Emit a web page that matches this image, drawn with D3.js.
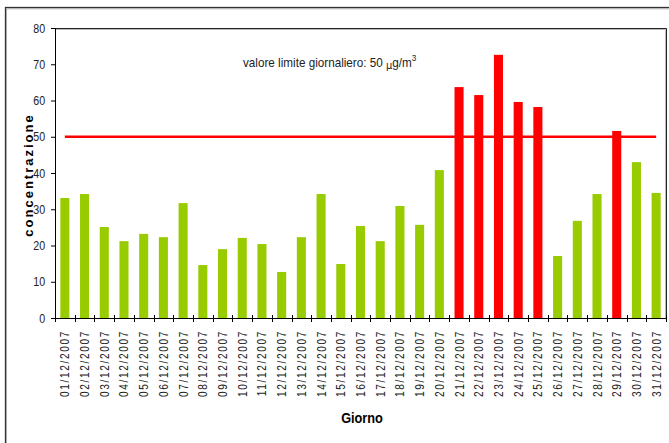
<!DOCTYPE html>
<html><head><meta charset="utf-8">
<script src="https://cdn.jsdelivr.net/npm/d3@7"></script>
<style>
body{margin:0;background:#fff;}
text{font-family:"Liberation Sans",Arial,sans-serif;}
</style></head>
<body><svg id="c" width="669" height="443"></svg>
<script>
const days = ["01/12/2007","02/12/2007","03/12/2007","04/12/2007","05/12/2007","06/12/2007","07/12/2007","08/12/2007","09/12/2007","10/12/2007","11/12/2007","12/12/2007","13/12/2007","14/12/2007","15/12/2007","16/12/2007","17/12/2007","18/12/2007","19/12/2007","20/12/2007","21/12/2007","22/12/2007","23/12/2007","24/12/2007","25/12/2007","26/12/2007","27/12/2007","28/12/2007","29/12/2007","30/12/2007","31/12/2007"];
const concentrazione = [33.1,34.2,25.1,21.2,23.2,22.3,31.7,14.6,19.0,22.1,20.4,12.7,22.3,34.2,14.9,25.4,21.2,30.9,25.7,40.8,63.7,61.5,72.6,59.6,58.2,17.1,26.8,34.2,51.6,43.0,34.5];
const limite = 50;
const yTicks = [0,10,20,30,40,50,60,70,80];

const svg = d3.select("#c");
const L=55, R=666, T=28, B=318;
const x = d3.scaleBand().domain(days).range([L,R]).paddingInner(0.54).paddingOuter(0.27);
const y = d3.scaleLinear().domain([0,80]).range([B,T]);

// outer frame
svg.append("rect").attr("x",5.5).attr("y",7.5).attr("width",720).attr("height",500)
  .attr("fill","none").attr("stroke","#333").attr("stroke-width",1.3);
svg.append("path").attr("d",`M6.5,${443} V8.8 H669`).attr("fill","none").attr("stroke","#aaa").attr("stroke-width",1);

// plot frame top/right
svg.append("path").attr("d",`M${L},${T+0.5} H${R+0.5} V${B}`).attr("fill","none").attr("stroke","#222").attr("stroke-width",1);
svg.append("path").attr("d",`M${L+1},${T+1.5} H${R-0.5} V${B}`).attr("fill","none").attr("stroke","#bbb").attr("stroke-width",1);

// bars
svg.append("g").selectAll("rect").data(days).join("rect")
  .attr("x",d=>x(d)).attr("width",x.bandwidth())
  .attr("y",(d,i)=>y(concentrazione[i])).attr("height",(d,i)=>y(0)-y(concentrazione[i]))
  .attr("fill",(d,i)=>concentrazione[i]>limite?"#ff0000":"#99cc00");

// limit line
svg.append("line").attr("x1",x(days[0])+x.bandwidth()/2).attr("x2",x(days[days.length-1])+x.bandwidth()/2)
  .attr("y1",y(limite)).attr("y2",y(limite)).attr("stroke","#ff0000").attr("stroke-width",2.5);

// y axis
const ya = svg.append("g").attr("transform",`translate(${L},0)`)
  .call(d3.axisLeft(y).tickValues(yTicks).tickSize(4).tickPadding(6));
ya.select(".domain").attr("stroke","#000");
ya.selectAll(".tick text").attr("font-size",13).attr("fill","#222")
  .style("font-family",'"Liberation Sans",Arial,sans-serif')
  .attr("transform","scale(0.82,1)").attr("x",-12);

// x axis: ticks at band boundaries crossing the axis
const bounds = d3.range(days.length+1).map(i=>L+i*(R-L)/days.length);
svg.append("line").attr("x1",L).attr("x2",R+0.5).attr("y1",B+0.5).attr("y2",B+0.5).attr("stroke","#000").attr("stroke-width",1.2);
svg.append("g").selectAll("line").data(bounds).join("line")
  .attr("x1",d=>Math.round(d)+0.5).attr("x2",d=>Math.round(d)+0.5).attr("y1",B-3).attr("y2",B+4).attr("stroke","#000");
svg.append("g").selectAll("text").data(days).join("text")
  .attr("transform",d=>`translate(${x(d)+x.bandwidth()/2+4.5},${B+12}) rotate(-90) scale(0.78,1)`)
  .attr("text-anchor","end").attr("font-size",13).attr("letter-spacing","2.1px").attr("fill","#222")
  .text(d=>d);

// titles
svg.append("text").attr("transform",`translate(33,175) rotate(-90)`).attr("text-anchor","middle")
  .attr("font-size",13).attr("font-weight","bold").attr("letter-spacing","2px").text("concentrazione");
svg.append("text").attr("transform","translate(362,423) scale(0.85,1)").attr("text-anchor","middle")
  .attr("font-size",15).attr("font-weight","bold").text("Giorno");

// annotation
const ann = svg.append("text").attr("transform","translate(243,67) scale(0.9,1)").attr("font-size",13).attr("fill","#222");
ann.append("tspan").text("valore limite giornaliero: 50 ");
ann.append("tspan").style("font-family",'"DejaVu Sans",sans-serif').attr("font-size",11).attr("dy",2).text("μ");
ann.append("tspan").attr("dy",-2).text("g/m");
ann.append("tspan").attr("font-size",9).attr("dy",-6).text("3");
</script></body></html>
